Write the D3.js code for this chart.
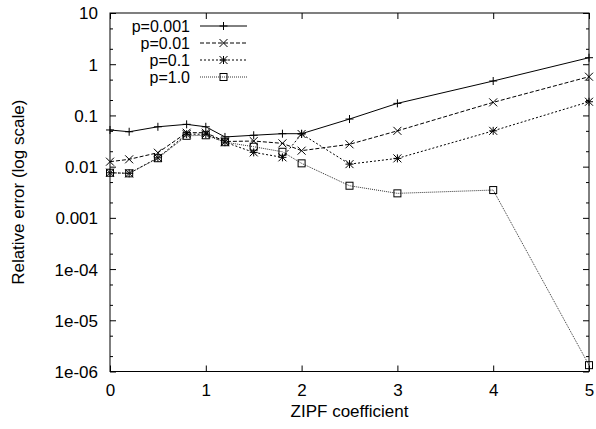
<!DOCTYPE html>
<html>
<head>
<meta charset="utf-8">
<script src="https://cdn.jsdelivr.net/npm/d3@7"></script>
<style>
  html, body { margin: 0; padding: 0; background: #fff; }
  svg { display: block; }
  text { font-family: "Liberation Sans", Arial, Helvetica, sans-serif; font-size: 17px; fill: #000; }
</style>
</head>
<body>
<svg id="chart" width="596" height="429"></svg>
<script>
// ---- data ----
const zipf = [0, 0.2, 0.5, 0.8, 1, 1.2, 1.5, 1.8, 2, 2.5, 3, 4, 5];
const p0001 = [0.052, 0.048, 0.060, 0.067, 0.060, 0.038, 0.041, 0.044, 0.044, 0.085, 0.172, 0.47, 1.34];
const p001  = [0.0125, 0.0139, 0.0187, 0.046, 0.046, 0.031, 0.0316, 0.0285, 0.0205, 0.0273, 0.050, 0.18, 0.57];
const p01   = [0.0076, 0.0074, 0.0149, 0.043, 0.043, 0.030, 0.019, 0.0152, 0.0434, 0.0112, 0.0145, 0.050, 0.185];
const p10   = [0.0076, 0.0074, 0.0146, 0.040, 0.041, 0.030, 0.0245, 0.0195, 0.0116, 0.00424, 0.00301, 0.00349, 1.33e-6];
const seriesNames = ["p=0.001", "p=0.01", "p=0.1", "p=1.0"];
const xTicks = [0, 1, 2, 3, 4, 5];
const yTicks = [10, 1, 0.1, 0.01, 0.001, 1e-4, 1e-5, 1e-6];
const yTickLabels = ["10", "1", "0.1", "0.01", "0.001", "1e-04", "1e-05", "1e-06"];
const xTitle = "ZIPF coefficient";
const yTitle = "Relative error (log scale)";

// ---- layout ----
const L = 110, R = 589, T = 13, B = 371.5;
const svg = d3.select("#chart");
const x = d3.scaleLinear().domain([0, 5]).range([L, R]);
const y = d3.scaleLog().domain([1e-6, 10]).range([B, T]);

// frame
svg.append("rect").attr("x", L).attr("y", T).attr("width", R - L).attr("height", B - T)
  .attr("fill", "none").attr("stroke", "#000").attr("stroke-width", 1);

// axes via d3 (ticks inward)
const yAxisL = d3.axisLeft(y).tickValues(yTicks).tickSize(-6)
  .tickFormat((d, i) => yTickLabels[i]);
const gY = svg.append("g").attr("transform", `translate(${L},0)`).call(yAxisL);
gY.select(".domain").remove();
gY.selectAll("text").style("font-size", "17px").attr("x", -12).attr("dy", "0.35em");

const yAxisR = d3.axisRight(y).tickValues(yTicks).tickSize(-6).tickFormat("");
svg.append("g").attr("transform", `translate(${R},0)`).call(yAxisR).select(".domain").remove();

// minor ticks at 2 and 5 of each decade
const minor = [];
for (let e = -6; e < 1; e++) { minor.push(2 * Math.pow(10, e)); minor.push(5 * Math.pow(10, e)); }
svg.append("g").attr("transform", `translate(${L},0)`)
  .call(d3.axisLeft(y).tickValues(minor).tickSize(-3).tickFormat(""))
  .select(".domain").remove();
svg.append("g").attr("transform", `translate(${R},0)`)
  .call(d3.axisRight(y).tickValues(minor).tickSize(-3).tickFormat(""))
  .select(".domain").remove();

const xAxisB = d3.axisBottom(x).tickValues(xTicks).tickSize(-6).tickFormat(d3.format("d"));
const gX = svg.append("g").attr("transform", `translate(0,${B})`).call(xAxisB);
gX.select(".domain").remove();
gX.selectAll("text").attr("y", 12).attr("dy", "0.71em").style("font-size", "17px");
svg.append("g").attr("transform", `translate(0,${T})`)
  .call(d3.axisTop(x).tickValues(xTicks).tickSize(-6).tickFormat(""))
  .select(".domain").remove();

svg.selectAll(".tick line").attr("stroke", "#000");
svg.selectAll(".tick text").attr("fill", "#000").attr("font-family", "Liberation Sans, Arial, sans-serif");

// titles
svg.append("text").attr("x", (L + R) / 2).attr("y", 417).attr("text-anchor", "middle").text(xTitle);
svg.append("text").attr("transform", `translate(24,${(T + B) / 2}) rotate(-90)`)
  .attr("text-anchor", "middle").text(yTitle);

// series
const allSeries = [p0001, p001, p01, p10];
const styles = [
  { dash: null, color: "#000", marker: "plus" },
  { dash: "4,2", color: "#000", marker: "cross" },
  { dash: "2,2", color: "#000", marker: "star" },
  { dash: "1,1", color: "#333", marker: "square" }
];

function drawMarker(g, type, cx, cy) {
  const s = 4;
  if (type === "plus" || type === "star") {
    g.append("line").attr("x1", cx - s).attr("x2", cx + s).attr("y1", cy).attr("y2", cy).attr("stroke", "#000");
    g.append("line").attr("x1", cx).attr("x2", cx).attr("y1", cy - s).attr("y2", cy + s).attr("stroke", "#000");
  }
  if (type === "cross" || type === "star") {
    g.append("line").attr("x1", cx - s).attr("x2", cx + s).attr("y1", cy - s).attr("y2", cy + s).attr("stroke", "#000");
    g.append("line").attr("x1", cx - s).attr("x2", cx + s).attr("y1", cy + s).attr("y2", cy - s).attr("stroke", "#000");
  }
  if (type === "square") {
    g.append("rect").attr("x", cx - 3.5).attr("y", cy - 3.5).attr("width", 7).attr("height", 7)
      .attr("fill", "none").attr("stroke", "#000").attr("stroke-width", 1);
  }
}

const line = d3.line().x(d => x(d[0])).y(d => y(d[1]));
allSeries.forEach((vals, i) => {
  const st = styles[i];
  const pts = zipf.map((z, j) => [z, vals[j]]);
  const g = svg.append("g");
  g.append("path").datum(pts).attr("d", line).attr("fill", "none")
    .attr("stroke", st.color).attr("stroke-width", 1)
    .attr("stroke-dasharray", st.dash);
  pts.forEach(p => drawMarker(g, st.marker, x(p[0]), y(p[1])));
});

// legend
const legY0 = 26, legDy = 17;
seriesNames.forEach((name, i) => {
  const st = styles[i];
  const ly = legY0 + i * legDy;
  const g = svg.append("g");
  g.append("text").attr("x", 190).attr("y", ly).attr("dy", "0.35em").attr("text-anchor", "end")
    .style("font-size", "16px").text(name);
  g.append("line").attr("x1", 200).attr("x2", 247).attr("y1", ly).attr("y2", ly)
    .attr("stroke", st.color).attr("stroke-width", 1).attr("stroke-dasharray", st.dash);
  drawMarker(g, st.marker, 223.5, ly);
});
</script>
</body>
</html>
